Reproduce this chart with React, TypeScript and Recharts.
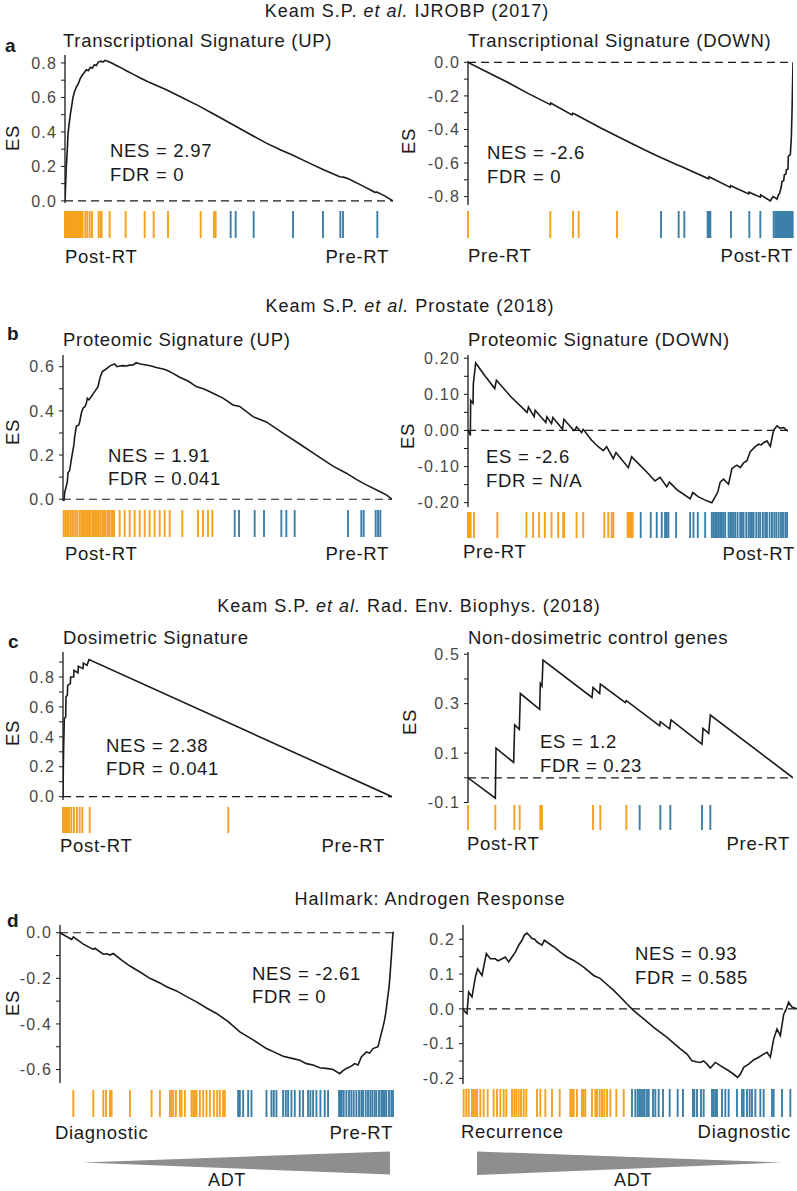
import React from "react";
import { LineChart, Line, XAxis, YAxis, ReferenceLine, ScatterChart, Scatter } from "recharts";

const ORANGE = "#F5A21E";
const BLUE = "#3B7FA8";
const INK = "#1a1a1a";
const FONT = "'Liberation Sans', Arial, Helvetica, sans-serif";

type Pt = [number, number];

// running enrichment score: [rank in ordered gene list, ES]
// a. Transcriptional signature (UP), 984 ranks
const txUpCurve: Pt[] = [
  [0, 0], [2, 0.1], [4, 0.2], [7, 0.3], [9, 0.39], [12, 0.44], [16, 0.5], [20, 0.55], [24, 0.6],
  [28, 0.63], [34, 0.66], [40, 0.68], [46, 0.71], [52, 0.73], [58, 0.745], [64, 0.76], [70, 0.755],
  [76, 0.775], [82, 0.77], [88, 0.79], [94, 0.785], [100, 0.805], [108, 0.81], [114, 0.805],
  [120, 0.815], [128, 0.81], [140, 0.8], [154, 0.785], [170, 0.77], [184, 0.755], [204, 0.735],
  [224, 0.714], [240, 0.7], [254, 0.686], [280, 0.665], [304, 0.645], [354, 0.597], [404, 0.548],
  [454, 0.495], [504, 0.442], [554, 0.388], [604, 0.335], [644, 0.298], [684, 0.265], [730, 0.222],
  [774, 0.182], [800, 0.16], [824, 0.14], [836, 0.138], [850, 0.128], [890, 0.09], [930, 0.05],
  [936, 0.052], [960, 0.028], [984, 0],
];
const txUpOrange = [0, 2, 4, 6, 8, 10, 12, 14, 16, 18, 20, 22, 24, 26, 28, 32, 35, 38, 41, 44, 47, 50, 53, 61, 67, 74, 81, 101, 107, 110, 134, 182, 239, 266, 309, 407, 447, 452];
const txUpBlue = [497, 512, 566, 684, 774, 826, 834, 937];
const txUpTicks = [0, 0.1, 0.2, 0.3, 0.4, 0.5, 0.6, 0.7, 0.8];
const txUpLabels = [0, 0.2, 0.4, 0.6, 0.8];

// a. Transcriptional signature (DOWN), 975 ranks
const txDownCurve: Pt[] = [
  [0, 0], [60, -0.06], [120, -0.12], [180, -0.185], [247, -0.252], [248, -0.242], [312, -0.313],
  [314, -0.303], [320, -0.308], [397, -0.39], [497, -0.49], [560, -0.55], [627, -0.61], [640, -0.62],
  [722, -0.694], [723, -0.682], [787, -0.745], [788, -0.735], [842, -0.784], [843, -0.774],
  [877, -0.803], [878, -0.79], [907, -0.826], [915, -0.8], [920, -0.805], [927, -0.815], [931, -0.79],
  [935, -0.78], [940, -0.74], [942, -0.71], [947, -0.705], [949, -0.67], [954, -0.665], [955, -0.64],
  [960, -0.635], [961, -0.56], [967, -0.55], [970, -0.45], [972, -0.3], [975, 0],
];
const txDownOrange = [0, 247, 315, 332, 447];
const txDownBlue = [579, 632, 649, 719, 722, 725, 727, 789, 844, 877, 917, 922, 926, 929, 932, 935, 938, 941, 944, 947, 950, 953, 956, 959, 962, 965, 968, 971, 974];
const txDownTicks = [0, -0.1, -0.2, -0.3, -0.4, -0.5, -0.6, -0.7, -0.8];
const txDownLabels = [0, -0.2, -0.4, -0.6, -0.8];

// b. Proteomic signature (UP), 987 ranks
const protUpCurve: Pt[] = [
  [0, 0], [3, -0.005], [5, 0.03], [10, 0.06], [13, 0.08], [15, 0.12], [20, 0.13], [25, 0.18],
  [30, 0.223], [33, 0.25], [35, 0.284], [40, 0.33], [47, 0.336], [50, 0.35], [55, 0.389], [60, 0.412],
  [66, 0.42], [70, 0.434], [73, 0.457], [78, 0.45], [85, 0.465], [95, 0.487], [105, 0.51], [108, 0.53],
  [112, 0.555], [118, 0.578], [125, 0.585], [132, 0.593], [142, 0.605], [155, 0.612], [162, 0.6],
  [170, 0.603], [180, 0.605], [190, 0.603], [200, 0.607], [210, 0.608], [220, 0.618], [232, 0.612],
  [250, 0.608], [265, 0.603], [280, 0.596], [300, 0.59], [310, 0.585], [330, 0.57], [350, 0.552],
  [375, 0.535], [400, 0.51], [425, 0.498], [450, 0.48], [480, 0.458], [510, 0.427], [530, 0.42],
  [570, 0.374], [610, 0.35], [660, 0.299], [710, 0.25], [760, 0.2], [810, 0.15], [850, 0.118],
  [880, 0.09], [910, 0.065], [950, 0.035], [970, 0.02], [987, 0],
];
const protUpOrange = [2, 7, 12, 17, 23, 28, 32, 38, 43, 50, 55, 60, 66, 72, 78, 82, 88, 93, 98, 102, 107, 112, 118, 123, 128, 135, 140, 147, 153, 170, 185, 200, 215, 230, 245, 260, 275, 290, 305, 320, 358, 405, 420, 435, 448];
const protUpBlue = [515, 528, 575, 603, 655, 670, 695, 855, 895, 902, 938, 945, 952];
const protUpTicks = [0, 0.1, 0.2, 0.3, 0.4, 0.5, 0.6];
const protUpLabels = [0, 0.2, 0.4, 0.6];

// b. Proteomic signature (DOWN), 958 ranks
const protDownCurve: Pt[] = [
  [0, 0], [7, -0.014], [8, 0.083], [15, 0.075], [16, 0.13], [23, 0.187], [50, 0.152], [80, 0.116],
  [85, 0.139], [130, 0.092], [177, 0.05], [181, 0.065], [198, 0.038], [201, 0.056], [233, 0.022],
  [236, 0.038], [250, 0.019], [254, 0.036], [283, 0.003], [287, 0.031], [317, 0], [320, 0.001],
  [325, 0.01], [340, -0.006], [345, 0.003], [370, -0.027], [390, -0.045], [405, -0.056], [415, -0.045],
  [435, -0.078], [443, -0.061], [480, -0.103], [490, -0.073], [535, -0.115], [560, -0.14], [575, -0.13],
  [595, -0.156], [603, -0.143], [625, -0.164], [665, -0.189], [673, -0.172], [690, -0.184],
  [715, -0.195], [730, -0.2], [740, -0.184], [748, -0.17], [755, -0.143], [765, -0.135], [780, -0.149],
  [790, -0.106], [798, -0.1], [805, -0.096], [815, -0.103], [825, -0.09], [835, -0.084], [845, -0.059],
  [860, -0.045], [870, -0.038], [878, -0.04], [885, -0.034], [895, -0.029], [905, -0.044], [915, 0.001],
  [925, 0.013], [935, 0.006], [945, 0.008], [958, -0.002],
];
const protDownOrange = [0, 2, 5, 8, 18, 88, 175, 195, 213, 230, 250, 270, 285, 288, 325, 345, 408, 420, 430, 435, 478, 481, 484, 487, 490, 493];
const protDownBlue = [517, 547, 565, 580, 590, 595, 600, 623, 665, 675, 688, 710, 730, 735, 740, 745, 750, 755, 760, 765, 770, 780, 785, 790, 795, 800, 807, 815, 820, 825, 833, 840, 845, 850, 855, 863, 870, 875, 883, 890, 895, 903, 910, 917, 923, 930, 937, 943, 950, 955];
const protDownTicks = [-0.2, -0.15, -0.1, -0.05, 0, 0.05, 0.1, 0.15, 0.2];
const protDownLabels = [-0.2, -0.1, 0, 0.1, 0.2];

// c. Dosimetric signature, 987 ranks
const doseCurve: Pt[] = [
  [0, 0], [1, 0.2], [2, 0.333], [4, 0.522], [8, 0.533], [9, 0.667], [13, 0.678], [14, 0.744],
  [22, 0.756], [23, 0.8], [32, 0.8], [33, 0.844], [45, 0.827], [46, 0.871], [60, 0.856], [61, 0.893],
  [72, 0.878], [78, 0.916], [987, 0],
];
const doseOrange = [0, 3, 6, 9, 12, 15, 18, 25, 33, 42, 50, 58, 80, 496];
const doseBlue: number[] = [];
const doseTicks = [0, 0.1, 0.2, 0.3, 0.4, 0.5, 0.6, 0.7, 0.8, 0.9];
const doseLabels = [0, 0.2, 0.4, 0.6, 0.8];

// c. Non-dosimetric control genes, 975 ranks
const ctrlCurve: Pt[] = [
  [0, 0], [82, -0.082], [84, 0.12], [137, 0.062], [140, 0.214], [154, 0.196], [157, 0.341],
  [215, 0.277], [217, 0.382], [222, 0.371], [225, 0.476], [372, 0.325], [375, 0.366], [395, 0.341],
  [397, 0.379], [472, 0.304], [475, 0.312], [575, 0.21], [577, 0.227], [605, 0.198], [609, 0.234],
  [702, 0.136], [705, 0.2], [722, 0.18], [727, 0.254], [975, 0],
];
const ctrlOrange = [0, 82, 139, 155, 217, 222, 375, 397, 475];
const ctrlBlue = [515, 577, 607, 702, 727];
const ctrlTicks = [-0.1, 0, 0.1, 0.2, 0.3, 0.4, 0.5];
const ctrlLabels = [-0.1, 0.1, 0.3, 0.5];

// d. Hallmark androgen response, Diagnostic vs Pre-RT, 1003 ranks
const andDiagCurve: Pt[] = [
  [0, 0], [35, -0.029], [40, -0.018], [70, -0.05], [100, -0.073], [105, -0.068], [130, -0.094],
  [140, -0.092], [150, -0.098], [160, -0.091], [185, -0.12], [210, -0.146], [240, -0.172], [270, -0.2],
  [300, -0.22], [320, -0.237], [350, -0.255], [380, -0.28], [410, -0.303], [440, -0.33], [470, -0.354],
  [505, -0.39], [540, -0.435], [580, -0.47], [620, -0.508], [650, -0.528], [670, -0.542], [700, -0.552],
  [720, -0.559], [740, -0.574], [760, -0.58], [780, -0.592], [805, -0.596], [820, -0.6], [840, -0.618],
  [850, -0.605], [860, -0.595], [875, -0.585], [885, -0.574], [895, -0.58], [905, -0.545], [920, -0.523],
  [930, -0.528], [940, -0.508], [955, -0.5], [960, -0.47], [970, -0.413], [975, -0.38], [978, -0.354],
  [983, -0.296], [988, -0.24], [990, -0.208], [995, -0.105], [1000, 0], [1003, 0.003],
];
const andDiagOrange = [40, 100, 130, 138, 150, 155, 210, 275, 300, 330, 335, 340, 348, 360, 365, 375, 395, 400, 405, 410, 420, 430, 440, 450, 462, 472, 480, 490, 495];
const andDiagBlue = [535, 540, 550, 565, 575, 620, 635, 642, 650, 670, 678, 685, 695, 705, 720, 730, 745, 752, 760, 770, 782, 795, 805, 838, 842, 846, 852, 860, 868, 875, 882, 890, 898, 905, 910, 918, 925, 932, 938, 945, 950, 958, 965, 970, 975, 980, 988, 995, 1000];
const andDiagTicks = [0, -0.1, -0.2, -0.3, -0.4, -0.5, -0.6];
const andDiagLabels = [0, -0.2, -0.4, -0.6];

// d. Hallmark androgen response, Recurrence vs Diagnostic, 1002 ranks
const andRecCurve: Pt[] = [
  [0, 0], [7, -0.01], [12, -0.014], [17, 0.048], [27, 0.034], [37, 0.091], [44, 0.115], [57, 0.096],
  [70, 0.159], [82, 0.144], [97, 0.144], [105, 0.138], [112, 0.141], [127, 0.149], [137, 0.135],
  [147, 0.149], [157, 0.163], [167, 0.183], [177, 0.197], [184, 0.212], [192, 0.218], [200, 0.21],
  [207, 0.202], [215, 0.2], [222, 0.192], [237, 0.183], [244, 0.197], [262, 0.185], [277, 0.175],
  [292, 0.163], [312, 0.149], [332, 0.139], [347, 0.13], [362, 0.12], [392, 0.096], [412, 0.087],
  [432, 0.07], [452, 0.053], [472, 0.034], [492, 0.014], [512, -0.005], [542, -0.029], [572, -0.053],
  [612, -0.082], [652, -0.115], [672, -0.13], [687, -0.149], [700, -0.152], [712, -0.154], [722, -0.15],
  [732, -0.159], [742, -0.17], [757, -0.154], [772, -0.163], [797, -0.178], [812, -0.188], [824, -0.197],
  [832, -0.188], [842, -0.168], [857, -0.159], [872, -0.147], [887, -0.139], [902, -0.13], [912, -0.125],
  [922, -0.139], [932, -0.087], [942, -0.058], [952, -0.077], [962, -0.016], [970, 0], [977, 0.019],
  [987, 0.005], [1002, 0],
];
const andRecOrange = [2, 10, 17, 27, 32, 37, 42, 52, 62, 74, 92, 102, 112, 122, 130, 147, 154, 160, 167, 174, 182, 190, 222, 232, 247, 267, 290, 322, 327, 332, 342, 357, 362, 367, 387, 397, 402, 410, 417, 424, 432, 442, 460, 482];
const andRecBlue = [507, 517, 524, 529, 534, 540, 545, 552, 557, 570, 577, 587, 600, 620, 644, 660, 690, 694, 702, 714, 722, 747, 752, 757, 762, 777, 787, 797, 822, 837, 842, 852, 860, 867, 877, 892, 902, 927, 932, 957, 982];
const andRecTicks = [-0.2, -0.15, -0.1, -0.05, 0, 0.05, 0.1, 0.15, 0.2];
const andRecLabels = [-0.2, -0.1, 0, 0.1, 0.2];

interface Spec {
  curve: Pt[]; n: number; orange: number[]; blue: number[];
  ticks: number[]; labels: number[]; dec: number; domain: [number, number];
  x: number; y: number; w: number; h: number; rugY: number; rugH: number;
}

const panels: Spec[] = [
  { curve: txUpCurve, n: 984, orange: txUpOrange, blue: txUpBlue, ticks: txUpTicks, labels: txUpLabels, dec: 1, domain: [-0.012, 0.846], x: 65, y: 55, w: 328, h: 148, rugY: 211, rugH: 27 },
  { curve: txDownCurve, n: 975, orange: txDownOrange, blue: txDownBlue, ticks: txDownTicks, labels: txDownLabels, dec: 1, domain: [-0.85, 0.008], x: 468, y: 61, w: 325, h: 144, rugY: 211, rugH: 27 },
  { curve: protUpCurve, n: 987, orange: protUpOrange, blue: protUpBlue, ticks: protUpTicks, labels: protUpLabels, dec: 1, domain: [-0.008, 0.653], x: 63, y: 355, w: 329, h: 146, rugY: 510, rugH: 27 },
  { curve: protDownCurve, n: 958, orange: protDownOrange, blue: protDownBlue, ticks: protDownTicks, labels: protDownLabels, dec: 2, domain: [-0.212, 0.209], x: 468, y: 355, w: 320, h: 152, rugY: 512, rugH: 26 },
  { curve: doseCurve, n: 987, orange: doseOrange, blue: doseBlue, ticks: doseTicks, labels: doseLabels, dec: 1, domain: [-0.022, 0.967], x: 63, y: 652, w: 329, h: 148, rugY: 807, rugH: 26 },
  { curve: ctrlCurve, n: 975, orange: ctrlOrange, blue: ctrlBlue, ticks: ctrlTicks, labels: ctrlLabels, dec: 1, domain: [-0.102, 0.509], x: 468, y: 652, w: 325, h: 151, rugY: 805, rugH: 25 },
  { curve: andDiagCurve, n: 1003, orange: andDiagOrange, blue: andDiagBlue, ticks: andDiagTicks, labels: andDiagLabels, dec: 1, domain: [-0.659, 0.034], x: 60, y: 925, w: 334, h: 158, rugY: 1090, rugH: 27 },
  { curve: andRecCurve, n: 1002, orange: andRecOrange, blue: andRecBlue, ticks: andRecTicks, labels: andRecLabels, dec: 1, domain: [-0.216, 0.241], x: 463, y: 925, w: 334, h: 159, rugY: 1089, rugH: 28 },
];

const AXIS_W = 50;
const PAD = 10;

const hitMark = (color: string, h: number) => (p: any) => (
  <line x1={p.cx} x2={p.cx} y1={p.cy - h / 2} y2={p.cy + h / 2} stroke={color} strokeWidth={1.9} />
);

function GseaPlot({ s }: { s: Spec }) {
  const data = s.curve.map(([r, es]) => ({ r, es }));
  const isLabel = (v: number) => s.labels.some((l) => Math.abs(l - v) < 1e-9);
  return (
    <>
      <div style={{ position: "absolute", left: s.x - AXIS_W - 5, top: s.y - PAD }}>
        <LineChart width={AXIS_W + s.w + 10} height={s.h + 2 * PAD} data={data} margin={{ top: PAD, bottom: PAD, left: 5, right: 5 }}>
          <XAxis type="number" dataKey="r" domain={[0, s.n]} hide allowDataOverflow />
          <YAxis
            type="number"
            domain={s.domain}
            allowDataOverflow
            ticks={s.ticks}
            interval={0}
            width={AXIS_W}
            tickSize={4}
            tickMargin={4}
            tickFormatter={(v: number) => (isLabel(v) ? v.toFixed(s.dec) : "")}
            tick={{ fontSize: 16, fill: "#474747", letterSpacing: 1.2 }}
            axisLine={{ stroke: INK, strokeWidth: 1.3 }}
            tickLine={{ stroke: INK, strokeWidth: 1 }}
          />
          <ReferenceLine y={0} stroke={INK} strokeWidth={1.2} strokeDasharray="8 5" />
          <Line type="linear" dataKey="es" stroke={INK} strokeWidth={1.6} dot={false} isAnimationActive={false} />
        </LineChart>
      </div>
      <div style={{ position: "absolute", left: s.x - 5, top: s.rugY }}>
        <ScatterChart width={s.w + 10} height={s.rugH} margin={{ top: 0, bottom: 0, left: 5, right: 5 }}>
          <XAxis type="number" dataKey="r" domain={[0, s.n]} hide />
          <YAxis type="number" dataKey="v" domain={[0, 1]} hide />
          <Scatter data={s.orange.map((r) => ({ r, v: 0.5 }))} shape={hitMark(ORANGE, s.rugH)} isAnimationActive={false} />
          <Scatter data={s.blue.map((r) => ({ r, v: 0.5 }))} shape={hitMark(BLUE, s.rugH)} isAnimationActive={false} />
        </ScatterChart>
      </div>
    </>
  );
}

const TXT = { fontSize: 18.5, letterSpacing: 0.7, fill: INK };

function T({ x, y, a = "start", children }: { x: number; y: number; a?: string; children: React.ReactNode }) {
  return (
    <text x={x} y={y} textAnchor={a} {...TXT}>
      {children}
    </text>
  );
}

function Header({ x, y, pre, post }: { x: number; y: number; pre: string; post: string }) {
  return (
    <text x={x} y={y} textAnchor="middle" fontSize={18} letterSpacing={1} fill={INK}>
      {pre}
      <tspan fontStyle="italic">et al.</tspan>
      {post}
    </text>
  );
}

function ES({ x, y }: { x: number; y: number }) {
  return (
    <text x={x} y={y} transform={`rotate(-90 ${x} ${y})`} textAnchor="middle" {...TXT}>
      ES
    </text>
  );
}

function Letter({ x, y, c }: { x: number; y: number; c: string }) {
  return (
    <text x={x} y={y} fontSize={19} fontWeight="bold" fill={INK}>
      {c}
    </text>
  );
}

export default function App() {
  return (
    <div style={{ position: "absolute", left: 0, top: 0, width: 797, height: 1191, overflow: "hidden", background: "#fff", fontFamily: FONT }}>
      {panels.map((s, i) => (
        <GseaPlot key={i} s={s} />
      ))}
      <svg width={797} height={1191} style={{ position: "absolute", left: 0, top: 0, pointerEvents: "none" }} fontFamily={FONT}>
        <Header x={407} y={17} pre="Keam S.P. " post=" IJROBP (2017)" />
        <Header x={410} y={312} pre="Keam S.P. " post=" Prostate (2018)" />
        <Header x={409} y={612} pre="Keam S.P. " post=" Rad. Env. Biophys. (2018)" />
        <text x={430} y={905} textAnchor="middle" fontSize={18} letterSpacing={1} fill={INK}>Hallmark: Androgen Response</text>

        <Letter x={5} y={52} c="a" />
        <Letter x={7} y={340} c="b" />
        <Letter x={8} y={648} c="c" />
        <Letter x={7} y={927} c="d" />

        <T x={63} y={47}>Transcriptional Signature (UP)</T>
        <T x={468} y={47}>Transcriptional Signature (DOWN)</T>
        <T x={63} y={346}>Proteomic Signature (UP)</T>
        <T x={468} y={346}>Proteomic Signature (DOWN)</T>
        <T x={63} y={644}>Dosimetric Signature</T>
        <T x={468} y={644}>Non-dosimetric control genes</T>

        <ES x={19} y={138} />
        <ES x={415} y={141} />
        <ES x={19} y={432} />
        <ES x={414} y={436} />
        <ES x={19} y={733} />
        <ES x={416} y={722} />
        <ES x={19} y={1003} />

        <T x={110} y={157}>NES = 2.97</T>
        <T x={110} y={181}>FDR = 0</T>
        <T x={487} y={159}>NES = -2.6</T>
        <T x={487} y={183}>FDR = 0</T>
        <T x={108} y={462}>NES = 1.91</T>
        <T x={108} y={485}>FDR = 0.041</T>
        <T x={486} y={463}>ES = -2.6</T>
        <T x={486} y={487}>FDR = N/A</T>
        <T x={106} y={752}>NES = 2.38</T>
        <T x={106} y={775}>FDR = 0.041</T>
        <T x={540} y={748}>ES = 1.2</T>
        <T x={540} y={772}>FDR = 0.23</T>
        <T x={252} y={980}>NES = -2.61</T>
        <T x={252} y={1003}>FDR = 0</T>
        <T x={635} y={960}>NES = 0.93</T>
        <T x={635} y={984}>FDR = 0.585</T>

        <T x={65} y={263}>Post-RT</T>
        <T x={389} y={263} a="end">Pre-RT</T>
        <T x={468} y={262}>Pre-RT</T>
        <T x={793} y={262} a="end">Post-RT</T>
        <T x={65} y={560}>Post-RT</T>
        <T x={389} y={560} a="end">Pre-RT</T>
        <T x={463} y={558}>Pre-RT</T>
        <T x={795} y={560} a="end">Post-RT</T>
        <T x={60} y={852}>Post-RT</T>
        <T x={385} y={852} a="end">Pre-RT</T>
        <T x={467} y={850}>Post-RT</T>
        <T x={790} y={850} a="end">Pre-RT</T>
        <T x={55} y={1139}>Diagnostic</T>
        <T x={393} y={1139} a="end">Pre-RT</T>
        <T x={461} y={1138}>Recurrence</T>
        <T x={791} y={1138} a="end">Diagnostic</T>

        <polygon points="83,1162.5 390,1151.5 390,1174.5" fill="#8e8e8e" />
        <polygon points="477,1151.5 477,1175 782,1162.5" fill="#8e8e8e" />
        <text x={227} y={1186} textAnchor="middle" fontSize={18} letterSpacing={0.7} fill={INK}>ADT</text>
        <text x={633} y={1186} textAnchor="middle" fontSize={18} letterSpacing={0.7} fill={INK}>ADT</text>
      </svg>
    </div>
  );
}
